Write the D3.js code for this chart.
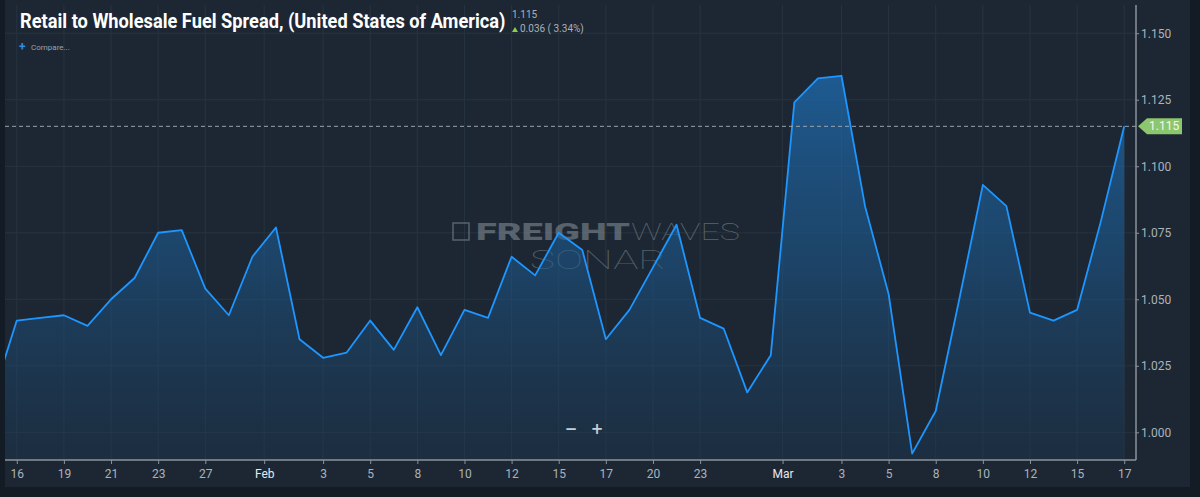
<!DOCTYPE html>
<html>
<head>
<meta charset="utf-8">
<script src="https://cdn.jsdelivr.net/npm/d3@7"></script>
<style>
  body { margin: 0; background: #131b24; }
  svg { display: block; }
</style>
</head>
<body>
<div id="chart"></div>
<script>
// one value per trading point
const values = [
  1.014, 1.042, 1.043, 1.044, 1.040, 1.050, 1.058, 1.075, 1.076, 1.054,
  1.044, 1.066, 1.077, 1.035, 1.028, 1.030, 1.042, 1.031, 1.047, 1.029,
  1.046, 1.043, 1.066, 1.059, 1.075, 1.0685, 1.035, 1.046, 1.062, 1.078,
  1.043, 1.039, 1.015, 1.029, 1.124, 1.133, 1.134, 1.085, 1.052, 0.992,
  1.008, 1.050, 1.093, 1.085, 1.045, 1.042, 1.046, 1.079, 1.115
]

const tickLabels = ['16', '19', '21', '23', '27', 'Feb', '3', '5', '8', '10', '12', '15',
  '17', '20', '23', 'Mar', '3', '5', '8', '10', '12', '15', '17']
const tickIndex = [1, 3, 5, 7, 9, 11.5, 14, 16, 18, 20, 22, 24,
  26, 28, 30, 33.5, 36, 38, 40, 42, 44, 46, 48]
const monthLabels = ['Feb', 'Mar']

const yTicks = [1.000, 1.025, 1.050, 1.075, 1.100, 1.125, 1.150]

const lastValue = 1.115
const change = '0.036 ( 3.34%)'

const W = 1200
const H = 497
const plot = { left: 5, right: 1136, top: 5, bottom: 460 }

const svg = d3
  .select('#chart')
  .append('svg')
  .attr('width', W)
  .attr('height', H)

// panel
svg
  .append('rect')
  .attr('x', 5)
  .attr('y', 0)
  .attr('width', 1185)
  .attr('height', 487)
  .attr('fill', '#1c2733')

const x = d3.scaleLinear().domain([0.5, 48.5]).range([plot.left, plot.right])
const y = d3.scaleLinear().domain([0.9896, 1.1606]).range([plot.bottom, plot.top])

const defs = svg.append('defs')
defs
  .append('clipPath')
  .attr('id', 'plot-clip')
  .append('rect')
  .attr('x', plot.left)
  .attr('y', plot.top)
  .attr('width', plot.right - plot.left)
  .attr('height', plot.bottom - plot.top)

const grad = defs
  .append('linearGradient')
  .attr('id', 'area-grad')
  .attr('gradientUnits', 'userSpaceOnUse')
  .attr('x1', 0)
  .attr('y1', plot.top)
  .attr('x2', 0)
  .attr('y2', plot.bottom)
grad.append('stop').attr('offset', '0%').attr('stop-color', '#1f74c0').attr('stop-opacity', 0.8)
grad.append('stop').attr('offset', '55%').attr('stop-color', '#1d5c94').attr('stop-opacity', 0.55)
grad.append('stop').attr('offset', '100%').attr('stop-color', '#1c3a58').attr('stop-opacity', 0.35)

// grid
const grid = svg.append('g').attr('class', 'grid')
grid
  .selectAll('.vgrid')
  .data(tickIndex)
  .enter()
  .append('line')
  .attr('x1', d => x(d))
  .attr('x2', d => x(d))
  .attr('y1', plot.top)
  .attr('y2', plot.bottom)
  .attr('stroke', '#27343f')
  .attr('stroke-width', 1)
grid
  .selectAll('.hgrid')
  .data(yTicks)
  .enter()
  .append('line')
  .attr('x1', plot.left)
  .attr('x2', plot.right)
  .attr('y1', d => y(d))
  .attr('y2', d => y(d))
  .attr('stroke', '#27343f')
  .attr('stroke-width', 1)

// squeeze a text horizontally to a given width (condensed look)
function fitWidth(sel, width) {
  const natural = sel.node().getComputedTextLength()
  const k = width / natural
  const x0 = +sel.attr('x')
  const y0 = +sel.attr('y')
  sel
    .attr('x', 0)
    .attr('y', 0)
    .attr('transform', `translate(${x0},${y0}) scale(${k},1)`)
}

// watermark
const wm = svg.append('g').attr('opacity', 0.55)
wm.append('rect')
  .attr('x', 453)
  .attr('y', 223)
  .attr('width', 16)
  .attr('height', 17)
  .attr('fill', 'none')
  .attr('stroke', '#8a939c')
  .attr('stroke-width', 1.5)
wm.append('text')
  .attr('x', 476)
  .attr('y', 240)
  .attr('font-family', 'Roboto, sans-serif')
  .attr('font-weight', 900)
  .attr('font-size', 23)
  .attr('fill', '#8a939c')
  .text('FREIGHT')
  .call(fitWidth, 154)
wm.append('text')
  .attr('x', 631)
  .attr('y', 240)
  .attr('font-family', 'Roboto, sans-serif')
  .attr('font-weight', 100)
  .attr('font-size', 23)
  .attr('fill', '#8a939c')
  .text('WAVES')
  .call(fitWidth, 109)
wm.append('text')
  .attr('x', 530)
  .attr('y', 269)
  .attr('font-family', 'Roboto, sans-serif')
  .attr('font-weight', 100)
  .attr('font-size', 26)
  .attr('fill', '#7f8a94')
  .text('SONAR')
  .call(fitWidth, 136)

// area + line
const marks = svg.append('g').attr('clip-path', 'url(#plot-clip)')

const area = d3
  .area()
  .x((d, i) => x(i))
  .y0(plot.bottom)
  .y1(d => y(d))

const line = d3
  .line()
  .x((d, i) => x(i))
  .y(d => y(d))

marks
  .append('path')
  .datum(values)
  .attr('d', area)
  .attr('fill', 'url(#area-grad)')

marks
  .append('path')
  .datum(values)
  .attr('d', line)
  .attr('fill', 'none')
  .attr('stroke', '#1e96ff')
  .attr('stroke-width', 1.8)
  .attr('stroke-linejoin', 'round')

// last value dashed line
svg
  .append('line')
  .attr('x1', plot.left)
  .attr('x2', plot.right)
  .attr('y1', y(lastValue))
  .attr('y2', y(lastValue))
  .attr('stroke', '#9aa3ab')
  .attr('stroke-width', 1)
  .attr('stroke-dasharray', '4,3')

// axes
const xAxis = d3
  .axisBottom(x)
  .tickValues(tickIndex)
  .tickSize(4)
  .tickFormat((d, i) => tickLabels[i])

const xg = svg
  .append('g')
  .attr('class', 'axis x-axis')
  .attr('transform', 'translate(0,' + plot.bottom + ')')
  .call(xAxis)

xg.select('.domain').attr('stroke', '#8b949c').attr('stroke-width', 1.5)
  .attr('d', 'M' + plot.left + ',0H' + plot.right)
xg.selectAll('.tick line').attr('stroke', '#8b949c')
xg.selectAll('.tick text')
  .attr('font-family', 'Roboto, sans-serif')
  .attr('font-size', 12)
  .attr('dy', '0.9em')
  .attr('fill', '#aab3bb')
  .filter((d, i) => monthLabels.includes(tickLabels[i]))
  .attr('fill', '#e6eaee')

const yAxis = d3
  .axisRight(y)
  .tickValues(yTicks)
  .tickSize(3)
  .tickFormat(d3.format('.3f'))

const yg = svg
  .append('g')
  .attr('class', 'axis y-axis')
  .attr('transform', 'translate(' + plot.right + ',0)')
  .call(yAxis)

yg.select('.domain').attr('stroke', '#8b949c').attr('stroke-width', 1.5)
  .attr('d', 'M0,' + plot.top + 'V' + plot.bottom)
yg.selectAll('.tick line').attr('stroke', '#8b949c')
yg.selectAll('.tick text')
  .attr('font-family', 'Roboto, sans-serif')
  .attr('font-size', 12)
  .attr('x', 5)
  .attr('fill', '#aab3bb')

// last value flag
const ly = y(lastValue)
svg
  .append('path')
  .attr('d', `M${plot.right + 2},${ly} L${plot.right + 11},${ly - 8} H${plot.right + 46} V${ly + 8} H${plot.right + 11} Z`)
  .attr('fill', '#8cc66e')
svg
  .append('text')
  .attr('x', plot.right + 13)
  .attr('y', ly + 4)
  .attr('font-family', 'Roboto, sans-serif')
  .attr('font-size', 12)
  .attr('fill', '#f4f8f0')
  .text(d3.format('.3f')(lastValue))

// zoom buttons
svg
  .append('text')
  .attr('x', 571)
  .attr('y', 434)
  .attr('text-anchor', 'middle')
  .attr('font-family', 'DejaVu Sans, sans-serif')
  .attr('font-weight', 'bold')
  .attr('font-size', 15)
  .attr('fill', '#c9ced3')
  .text('−')
svg
  .append('text')
  .attr('x', 597)
  .attr('y', 434)
  .attr('text-anchor', 'middle')
  .attr('font-family', 'DejaVu Sans, sans-serif')
  .attr('font-weight', 'bold')
  .attr('font-size', 15)
  .attr('fill', '#c9ced3')
  .text('+')

// title block
svg
  .append('text')
  .attr('x', 20)
  .attr('y', 28)
  .attr('font-family', 'Roboto, sans-serif')
  .attr('font-weight', 'bold')
  .attr('font-size', 20)
  .attr('fill', '#ffffff')
  .text('Retail to Wholesale Fuel Spread, (United States of America)')
  .call(fitWidth, 486)

svg
  .append('text')
  .attr('x', 512)
  .attr('y', 18)
  .attr('font-family', 'Roboto, sans-serif')
  .attr('font-size', 10)
  .attr('fill', '#a9b1b9')
  .text(d3.format('.3f')(lastValue))

svg
  .append('path')
  .attr('d', 'M512,32 L515,27 L518,32 Z')
  .attr('fill', '#8bd13f')
svg
  .append('text')
  .attr('x', 520)
  .attr('y', 32)
  .attr('font-family', 'Roboto, sans-serif')
  .attr('font-size', 10)
  .attr('fill', '#a9b1b9')
  .text(change)

svg
  .append('text')
  .attr('x', 19)
  .attr('y', 51)
  .attr('font-family', 'Roboto, sans-serif')
  .attr('font-weight', 'bold')
  .attr('font-size', 12)
  .attr('fill', '#2e8bea')
  .text('+')
svg
  .append('text')
  .attr('x', 31)
  .attr('y', 50)
  .attr('font-family', 'Roboto, sans-serif')
  .attr('font-size', 8)
  .attr('fill', '#9aa3ab')
  .text('Compare...')
</script>
</body>
</html>
